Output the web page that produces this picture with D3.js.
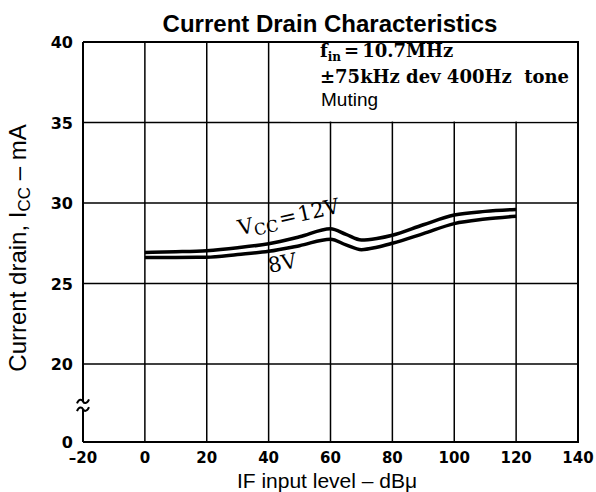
<!DOCTYPE html>
<html>
<head>
<meta charset="utf-8">
<script src="https://cdn.jsdelivr.net/npm/d3@7"></script>
<style>
  html, body { margin: 0; padding: 0; background: #fff; }
  svg { display: block; }
</style>
</head>
<body>
<svg id="chart" width="596" height="492"></svg>
<script>
// IF input level (dBµ) sample points along the curves
const inputLevel = [0, 10, 20, 30, 40, 50, 60, 65, 70, 75, 80, 90, 100, 110, 120];
// Current drain (mA) at VCC = 12 V
const drain12V = [26.93, 26.97, 27.04, 27.22, 27.47, 27.9, 28.4, 28.05, 27.7, 27.8, 28.0, 28.65, 29.25, 29.48, 29.6];
// Current drain (mA) at VCC = 8 V
const drain8V = [26.62, 26.62, 26.63, 26.8, 27.0, 27.35, 27.75, 27.4, 27.1, 27.25, 27.5, 28.1, 28.72, 29.0, 29.18];

const xTicks = [-20, 0, 20, 40, 60, 80, 100, 120, 140];
const yTicks = [0, 20, 25, 30, 35, 40];

const svg = d3.select("#chart");

// y axis is broken between 0 and 20 mA
const x = d3.scaleLinear().domain([-20, 140]).range([83, 578]);
const y = d3.scaleLinear().domain([0, 20, 40]).range([442, 364, 42]);

const sans = "'Liberation Sans', Arial, sans-serif";
const tickFont = "'DejaVu Sans', sans-serif";
const serif = "'DejaVu Serif', 'Liberation Serif', serif";

// vertical grid
svg.append("g").selectAll("line")
  .data(xTicks.filter(d => d > -20 && d < 140))
  .join("line")
  .attr("x1", d => x(d)).attr("x2", d => x(d))
  .attr("y1", y(0)).attr("y2", y(40))
  .attr("stroke", "#000").attr("stroke-width", 1.5);

// horizontal grid
svg.append("g").selectAll("line")
  .data(yTicks.filter(d => d > 0 && d < 40))
  .join("line")
  .attr("x1", x(-20)).attr("x2", x(140))
  .attr("y1", d => y(d)).attr("y2", d => y(d))
  .attr("stroke", "#000").attr("stroke-width", 1.5);

// blank panel behind the test conditions
svg.append("rect")
  .attr("x", x(47)).attr("y", y(40) + 1)
  .attr("width", x(140) - x(47) - 1)
  .attr("height", y(35) - y(40) - 2)
  .attr("fill", "#fff");

// frame: top, right, bottom
svg.append("path")
  .attr("d", `M${x(-20)},${y(40)}H${x(140)}V${y(0)}H${x(-20)}`)
  .attr("fill", "none").attr("stroke", "#000").attr("stroke-width", 2);

// left axis with break marks
const brkTop = y(10.4), brkBot = y(8.4);
svg.append("path")
  .attr("d", `M${x(-20)},${y(40)}V${brkTop}M${x(-20)},${brkBot}V${y(0)}`)
  .attr("fill", "none").attr("stroke", "#000").attr("stroke-width", 2);
[brkTop, brkBot].forEach(yy => {
  const x0 = x(-20);
  svg.append("path")
    .attr("d", `M${x0 - 6},${yy + 2} C${x0 - 4},${yy - 3} ${x0 - 1},${yy - 2} ${x0},${yy} S${x0 + 4},${yy + 3} ${x0 + 6},${yy - 2}`)
    .attr("fill", "none").attr("stroke", "#000").attr("stroke-width", 2);
});

// tick labels
svg.append("g").selectAll("text")
  .data(xTicks)
  .join("text")
  .attr("x", d => x(d)).attr("y", 463)
  .attr("text-anchor", "middle")
  .attr("font-family", tickFont).attr("font-weight", "bold").attr("font-size", 15)
  .text(d => d < 0 ? "\u2013" + Math.abs(d) : d);

svg.append("g").selectAll("text")
  .data(yTicks)
  .join("text")
  .attr("x", 73).attr("y", d => y(d) + 6)
  .attr("text-anchor", "end")
  .attr("font-family", tickFont).attr("font-weight", "bold").attr("font-size", 16)
  .text(d => d);

// curves
const line = d3.line()
  .x((d, i) => x(inputLevel[i]))
  .y(d => y(d))
  .curve(d3.curveMonotoneX);

[drain12V, drain8V].forEach(series => {
  svg.append("path")
    .attr("d", line(series))
    .attr("fill", "none").attr("stroke", "#000")
    .attr("stroke-width", 3.5).attr("stroke-linejoin", "round");
});

// curve labels
const lab12 = svg.append("text")
  .attr("transform", `translate(${x(30.7)},${y(28.0)}) rotate(-12.7)`)
  .attr("font-family", serif).attr("font-size", 21);
lab12.append("tspan").text("V");
lab12.append("tspan").attr("font-size", 16).attr("dy", 4).text("CC");
lab12.append("tspan").attr("dy", -4).attr("dx", 2).text("=");
lab12.append("tspan").attr("dx", 2).text("12V");

svg.append("text")
  .attr("transform", `translate(${x(40.4)},${y(25.65)}) rotate(-12)`)
  .attr("font-family", serif).attr("font-size", 21)
  .text("8V");

// test conditions
const cond1 = svg.append("text")
  .attr("x", 320).attr("y", 57)
  .attr("font-family", serif).attr("font-size", 18).attr("font-weight", "bold");
cond1.append("tspan").text("f");
cond1.append("tspan").attr("font-size", 12).attr("dy", 4).text("in");
cond1.append("tspan").attr("dy", -4).attr("dx", 3).text("=");
cond1.append("tspan").attr("dx", 3).text("10.7MHz");

svg.append("text")
  .attr("x", 320).attr("y", 82.5)
  .attr("font-family", serif).attr("font-size", 18).attr("font-weight", "bold")
  .attr("xml:space", "preserve")
  .text("\u00b175kHz dev 400Hz  tone");

svg.append("text")
  .attr("x", 321).attr("y", 106)
  .attr("font-family", sans).attr("font-size", 19)
  .text("Muting");

// title
svg.append("text")
  .attr("x", 330).attr("y", 32)
  .attr("text-anchor", "middle")
  .attr("font-family", sans).attr("font-weight", "bold").attr("font-size", 24)
  .text("Current Drain Characteristics");

// axis titles
svg.append("text")
  .attr("x", 327).attr("y", 488)
  .attr("text-anchor", "middle")
  .attr("font-family", sans).attr("font-size", 21)
  .text("IF input level \u2013 dB\u03bc");

const yTitle = svg.append("text")
  .attr("transform", `translate(26,248) rotate(-90)`)
  .attr("text-anchor", "middle")
  .attr("font-family", sans).attr("font-size", 24);
yTitle.append("tspan").text("Current drain, I");
yTitle.append("tspan").attr("font-size", 17).attr("dy", 4).text("CC");
yTitle.append("tspan").attr("dy", -4).text(" \u2013 mA");
</script>
</body>
</html>
